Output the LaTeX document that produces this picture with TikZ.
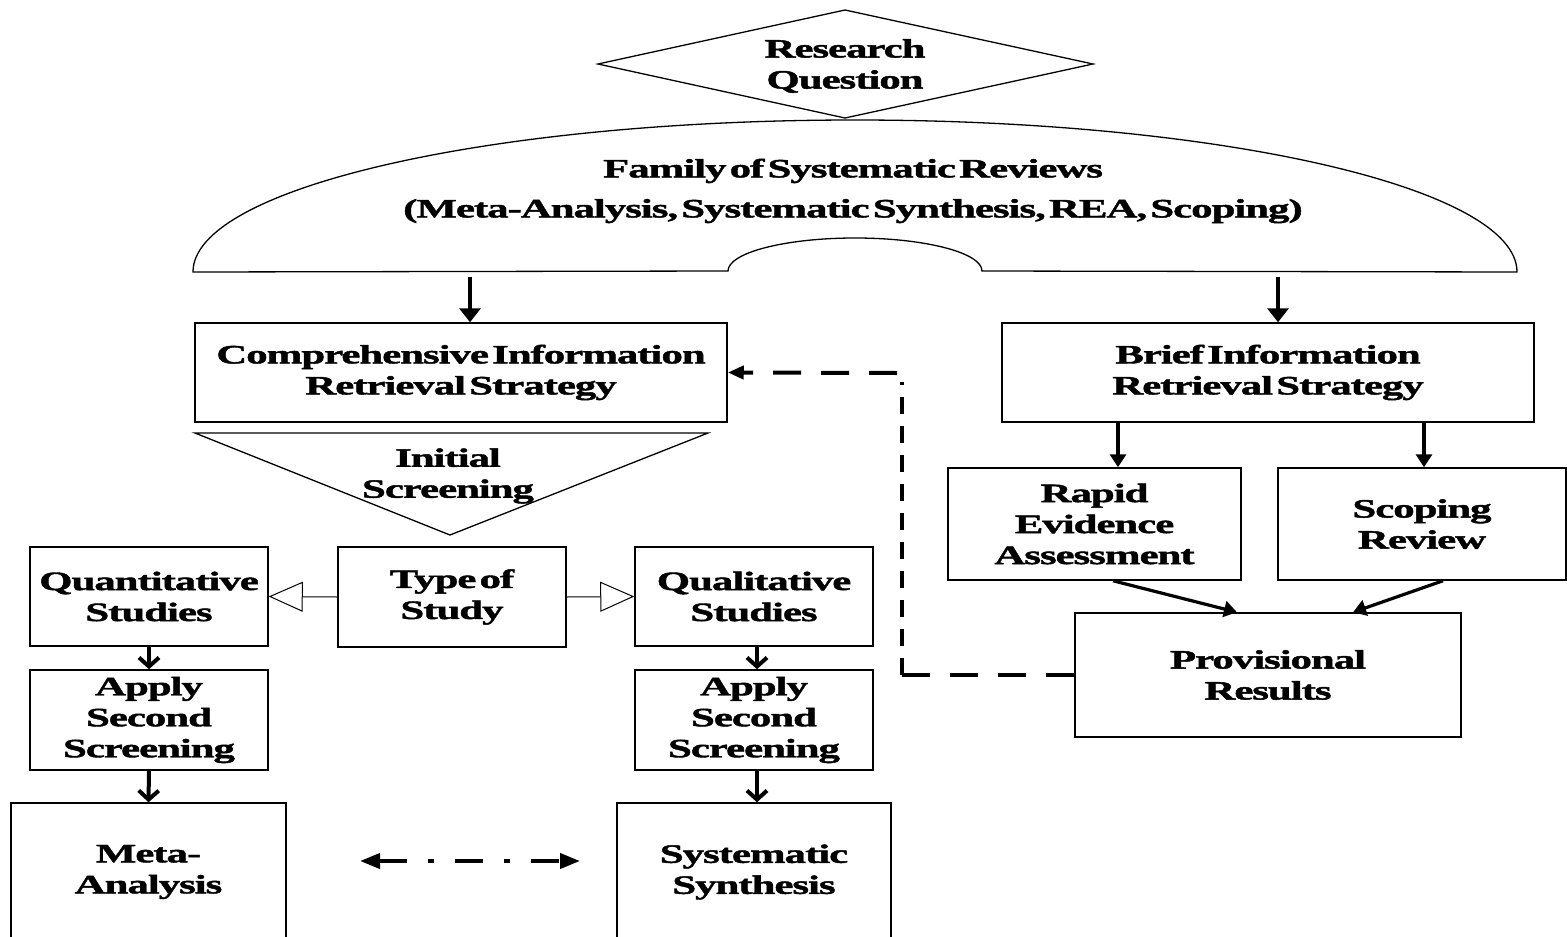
\documentclass[tikz,border=0pt]{standalone}
\usepackage{fontspec}
\setmainfont{Liberation Serif Bold}[FakeStretch=1.62, FakeBold=1.6, LetterSpace=-4]
\usetikzlibrary{arrows.meta,calc}
\newcommand\diagtxt{\fontsize{26.5}{31}\selectfont\spaceskip 0.12em\relax}
\newcommand\famtxt{\fontsize{26.5}{40}\selectfont\spaceskip 0.12em\relax}
\begin{document}
\begin{tikzpicture}[x=1pt,y=-1pt,
  box/.style={draw, line width=1.5pt, inner sep=0pt, align=center, font=\diagtxt},
  txt/.style={inner sep=0pt, align=center, font=\diagtxt},
  shapeline/.style={draw, line width=1.3pt},
  bigarrow/.style={line width=4.5pt, -{Triangle[length=14pt,width=21pt]}},
  medarrow/.style={line width=3.2pt, -{Triangle[length=13pt,width=16pt]}},
  barbarrow/.style={line width=4pt, -{Straight Barb[length=9pt,width=20pt]}},
  openarrow/.style={line width=1pt, -{Triangle[open,length=34pt,width=30pt]}},
  fbh/.style={line width=4pt, dash pattern=on 28pt off 20pt},
  fbv/.style={line width=4pt, dash pattern=on 17pt off 12pt},
]
\useasboundingbox (0,0) rectangle (1567,937);

% Research question diamond
\draw[shapeline] (598,64) -- (845,10) -- (1093,64) -- (845,118) -- cycle;
\node[txt] (rq) at (845,66) {Research\\Question};

% Family dome
\draw[shapeline] (193,272) arc[start angle=180, end angle=0, x radius=662pt, y radius=152pt]
  -- (982,271) arc[start angle=0, end angle=180, x radius=127pt, y radius=33pt] -- cycle;
\node[txt, font=\famtxt] (fam) at (853,191)
  {Family of Systematic Reviews\\(Meta-Analysis, Systematic Synthesis, REA, Scoping)};
\coordinate (d1) at (470,277);
\coordinate (d2) at (1278,277);

% main boxes
\node[box, minimum width=532pt, minimum height=99pt] (comp) at (461,372.5)
  {Comprehensive Information\\Retrieval Strategy};
\node[box, minimum width=532pt, minimum height=99pt] (brief) at (1268,372.5)
  {Brief Information\\Retrieval Strategy};

% initial screening triangle
\draw[shapeline] (195,433) -- (708,433) -- (450,535) -- cycle;
\node[txt] (init) at (448,476) {Initial\\Screening};

\node[box, minimum width=228pt, minimum height=100pt] (type) at (452,597) {Type of\\Study};
\node[box, minimum width=238pt, minimum height=99pt] (quant) at (149,596.5) {Quantitative\\Studies};
\node[box, minimum width=238pt, minimum height=99pt] (qual) at (754,596.5) {Qualitative\\Studies};
\node[box, minimum width=238pt, minimum height=100pt] (app1) at (149,720) {Apply\\Second\\Screening};
\node[box, minimum width=238pt, minimum height=100pt] (app2) at (754,720) {Apply\\Second\\Screening};
\node[box, minimum width=275pt, minimum height=138pt] (meta) at (148.5,872) {Meta-\\Analysis};
\node[box, minimum width=274pt, minimum height=138pt] (synth) at (754,872) {Systematic\\Synthesis};

\node[box, minimum width=293pt, minimum height=112pt] (rea) at (1094.5,524) {Rapid\\Evidence\\Assessment};
\node[box, minimum width=288pt, minimum height=112pt] (scop) at (1422,524) {Scoping\\Review};
\node[box, minimum width=386pt, minimum height=124pt] (prov) at (1268,675) {Provisional\\Results};

% helper x-positions
\coordinate (xa) at (1118,0);
\coordinate (xb) at (1424,0);
\coordinate (xq) at (757,0);
\coordinate (m1) at (360,861);
\coordinate (m2) at (580,861);
\coordinate (f1) at (902,675);
\coordinate (f2) at (902,382);
\coordinate (f3) at (897,373);

% connectors
\draw[bigarrow] (d1) -- (d1 |- comp.north);
\draw[bigarrow] (d2) -- (d2 |- brief.north);
\draw[medarrow] (brief.south -| xa) -- (rea.north -| xa);
\draw[medarrow] (brief.south -| xb) -- (scop.north -| xb);
\draw[medarrow] ([xshift=18.5pt]rea.south) -- ([xshift=-31pt]prov.north);
\draw[medarrow] ([xshift=21pt]scop.south) -- ([xshift=85pt]prov.north);

\draw[openarrow] (type.west) -- (quant.east);
\draw[openarrow] (type.east) -- (qual.west);
\draw[barbarrow] (quant.south) -- (app1.north);
\draw[barbarrow] (qual.south -| xq) -- (app2.north -| xq);
\draw[barbarrow] (app1.south) -- (meta.north);
\draw[barbarrow] (app2.south -| xq) -- (synth.north -| xq);

\draw[line width=4pt, dash pattern=on 28pt off 21pt on 6pt off 21pt,
  {Triangle[length=20pt,width=15pt]}-{Triangle[length=20pt,width=15pt]}] (m1) -- (m2);

% feedback dashed connector
\draw[fbh] (prov.west) -- (f1);
\draw[fbv] (f1) -- (f2);
\draw[fbh, -{Triangle[length=16pt,width=13pt]}] (f3) -- (comp.east);
\end{tikzpicture}
\end{document}
